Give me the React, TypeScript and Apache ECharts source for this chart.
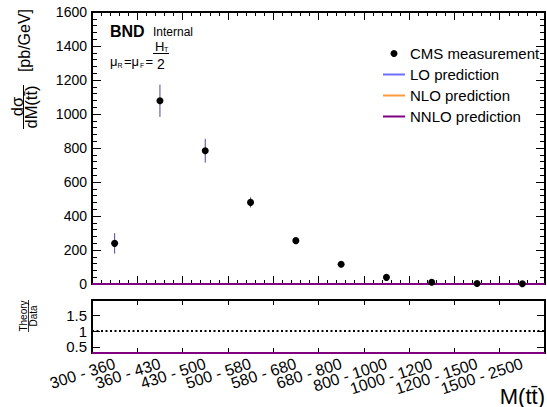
import React, { useEffect, useRef } from "react";
import * as echarts from "echarts";

const binLabels = [
  "300 - 360",
  "360 - 430",
  "430 - 500",
  "500 - 580",
  "580 - 680",
  "680 - 800",
  "800 - 1000",
  "1000 - 1200",
  "1200 - 1500",
  "1500 - 2500",
];
const cmsValues = [239, 1078, 784, 480, 255, 116, 39, 10, 3, 1];
const cmsErrors = [60, 95, 70, 30, 15, 6, 4, 2, 1, 0.5];
const loPrediction = [0, 0, 0, 0, 0, 0, 0, 0, 0, 0];
const nloPrediction = [0, 0, 0, 0, 0, 0, 0, 0, 0, 0];
const nnloPrediction = [0, 0, 0, 0, 0, 0, 0, 0, 0, 0];
const mainYTicks = { min: 0, max: 1600, interval: 200 };
const ratioYLabels = [0.5, 1, 1.5];
const RATIO_MIN = 0.3;
const RATIO_MAX = 2.0;

const FONT = "'Liberation Sans', Arial, Helvetica, sans-serif";
const LO_COLOR = "#6f6fff";
const NLO_COLOR = "#ff9a3c";
const NNLO_COLOR = "#800080";
const ERR_COLOR = "#4a4a96";

function stepData(vals: number[]) {
  const out: number[][] = [];
  vals.forEach((v, i) => {
    out.push([i, v]);
    out.push([i + 1, v]);
  });
  return out;
}
function ratioStep(vals: number[]) {
  const out: number[][] = [];
  vals.forEach((v, i) => {
    const r = Math.min(RATIO_MAX, Math.max(RATIO_MIN, v / cmsValues[i]));
    out.push([i, r]);
    out.push([i + 1, r]);
  });
  return out;
}

export default function App() {
  const ref = useRef<HTMLDivElement>(null);
  useEffect(() => {
    document.body.style.margin = "0";
    const chart = echarts.init(ref.current!, null, { renderer: "svg", width: 547, height: 407 });
    const nBins = binLabels.length;
    const black = { color: "#000", width: 1 };
    const frame = () => ({ show: true, onZero: false, lineStyle: { color: "#000", width: 2 } });
    const AXIS_Z = 50;

    const xVal = (position: "top" | "bottom") => ({
      type: "value",
      gridIndex: 0,
      position,
      z: AXIS_Z,
      min: 0,
      max: nBins,
      interval: 1,
      axisLine: frame(),
      axisTick: { show: true, inside: true, length: 8, lineStyle: black },
      minorTick: { show: true, splitNumber: 5, length: 4, lineStyle: black },
      axisLabel: { show: false },
      splitLine: { show: false },
      minorSplitLine: { show: false },
    });
    const yVal = (position: "left" | "right", labels: boolean) => ({
      type: "value",
      gridIndex: 0,
      position,
      z: AXIS_Z,
      min: mainYTicks.min,
      max: mainYTicks.max,
      interval: mainYTicks.interval,
      axisLine: frame(),
      axisTick: { show: true, inside: true, length: 9, lineStyle: black },
      minorTick: { show: true, splitNumber: 5, length: 5, lineStyle: black },
      axisLabel: labels
        ? {
            show: true,
            fontSize: 14,
            fontFamily: FONT,
            color: "#000",
            margin: 5,
            formatter: (v: number) => String(v),
          }
        : { show: false },
      splitLine: { show: false },
      minorSplitLine: { show: false },
    });
    const ratioCat = (position: "top" | "bottom", labels: boolean) => ({
      type: "category",
      gridIndex: 1,
      position,
      z: AXIS_Z,
      data: binLabels,
      boundaryGap: true,
      axisLine: frame(),
      axisTick: { show: true, inside: true, length: 5, lineStyle: black, interval: 0 },
      axisLabel: labels
        ? {
            show: true,
            interval: 0,
            rotate: 18,
            fontSize: 16,
            fontFamily: FONT,
            color: "#000",
            margin: 10,
          }
        : { show: false },
      splitLine: { show: false },
    });
    const ratioY = (position: "left" | "right", labels: boolean) => ({
      type: "value",
      gridIndex: 1,
      position,
      z: AXIS_Z,
      min: RATIO_MIN,
      max: RATIO_MAX,
      axisLine: frame(),
      axisTick: {
        show: true,
        inside: true,
        length: 8,
        lineStyle: black,
        customValues: ratioYLabels,
      },
      axisLabel: labels
        ? {
            show: true,
            fontSize: 15,
            fontFamily: FONT,
            color: "#000",
            margin: 5,
            customValues: ratioYLabels,
            formatter: (v: number) => String(v),
          }
        : { show: false, customValues: ratioYLabels },
      splitLine: { show: false },
    });

    const predLine = (name: string, vals: number[], color: string, xi: number, yi: number, ratio: boolean) => ({
      type: "line",
      name,
      xAxisIndex: xi,
      yAxisIndex: yi,
      data: ratio ? ratioStep(vals) : stepData(vals),
      showSymbol: false,
      symbol: "none",
      itemStyle: { color },
      lineStyle: { color, width: 2 },
      clip: false,
      z: 60,
    });

    const linePath = "path://M0,0H22V2H0Z";

    chart.setOption({
      animation: false,
      grid: [
        { left: 92, top: 12, width: 453, height: 272, z: AXIS_Z, show: true, borderColor: "#000", borderWidth: 2, backgroundColor: "transparent" },
        { left: 92, top: 300, width: 453, height: 53, z: AXIS_Z, show: true, borderColor: "#000", borderWidth: 2, backgroundColor: "transparent" },
      ],
      xAxis: [
        xVal("bottom"), // 0
        xVal("top"), // 1
        ratioCat("bottom", true), // 2
        ratioCat("top", false), // 3
        { type: "value", gridIndex: 1, show: false, min: 0, max: nBins }, // 4
      ],
      yAxis: [
        yVal("left", true), // 0
        yVal("right", false), // 1
        ratioY("left", true), // 2
        ratioY("right", false), // 3
      ],
      legend: {
        left: 378,
        top: 40,
        orient: "vertical",
        itemWidth: 22,
        itemHeight: 7,
        itemGap: 4,
        z: 70,
        selectedMode: false,
        textStyle: { fontSize: 15, fontFamily: FONT, color: "#000", lineHeight: 17 },
        data: [
          { name: "CMS measurement", icon: "circle" },
          { name: "LO prediction", icon: linePath },
          { name: "NLO prediction", icon: linePath },
          { name: "NNLO prediction", icon: linePath },
        ],
      },
      series: [
        {
          type: "custom",
          name: "errors",
          xAxisIndex: 0,
          yAxisIndex: 0,
          clip: false,
          data: cmsValues.map((v, i) => [i + 0.5, v - cmsErrors[i], v + cmsErrors[i]]),
          encode: { x: 0, y: [1, 2] },
          renderItem: (params: any, api: any) => {
            const x = api.value(0);
            const p1 = api.coord([x, api.value(1)]);
            const p2 = api.coord([x, api.value(2)]);
            return {
              type: "line",
              shape: { x1: p1[0], y1: p1[1], x2: p2[0], y2: p2[1] },
              style: { stroke: ERR_COLOR, lineWidth: 1 },
            };
          },
          z: 60,
        },
        predLine("LO prediction", loPrediction, LO_COLOR, 0, 0, false),
        predLine("NLO prediction", nloPrediction, NLO_COLOR, 0, 0, false),
        predLine("NNLO prediction", nnloPrediction, NNLO_COLOR, 0, 0, false),
        {
          type: "scatter",
          name: "CMS measurement",
          xAxisIndex: 0,
          yAxisIndex: 0,
          clip: false,
          data: cmsValues.map((v, i) => [i + 0.5, v]),
          symbol: "circle",
          symbolSize: 7,
          itemStyle: { color: "#000", opacity: 1 },
          z: 61,
        },
        predLine("LO ratio", loPrediction, LO_COLOR, 4, 2, true),
        predLine("NLO ratio", nloPrediction, NLO_COLOR, 4, 2, true),
        {
          ...predLine("NNLO ratio", nnloPrediction, NNLO_COLOR, 4, 2, true),
          markLine: {
            silent: true,
            symbol: "none",
            label: { show: false },
            lineStyle: { color: "#000", width: 2, type: [2, 2.5], opacity: 1 },
            data: [{ yAxis: 1 }],
          },
        },
      ],
      graphic: [
        { type: "rect", z: 55, silent: true, shape: { x: 92, y: 12, width: 453, height: 272 }, style: { fill: "none", stroke: "#000", lineWidth: 2 } },
        { type: "rect", z: 55, silent: true, shape: { x: 92, y: 300, width: 453, height: 53 }, style: { fill: "none", stroke: "#000", lineWidth: 2 } },
        { type: "text", z: 70, x: 110, y: 31.5, style: { text: "BND", font: `bold 16px ${FONT}`, fill: "#000", verticalAlign: "middle" } },
        { type: "text", z: 70, x: 153, y: 31.5, style: { text: "Internal", font: `12px ${FONT}`, fill: "#000", verticalAlign: "middle" } },
        { type: "text", z: 70, x: 110, y: 61, style: { text: "μ", font: `13px ${FONT}`, fill: "#000", verticalAlign: "middle" } },
        { type: "text", z: 70, x: 117.5, y: 65.5, style: { text: "R", font: `7px ${FONT}`, fill: "#000", verticalAlign: "middle" } },
        { type: "text", z: 70, x: 124, y: 61, style: { text: "=μ", font: `13px ${FONT}`, fill: "#000", verticalAlign: "middle" } },
        { type: "text", z: 70, x: 140, y: 65.5, style: { text: "F", font: `7px ${FONT}`, fill: "#000", verticalAlign: "middle" } },
        { type: "text", z: 70, x: 145.5, y: 61, style: { text: "=", font: `13px ${FONT}`, fill: "#000", verticalAlign: "middle" } },
        { type: "text", z: 70, x: 155, y: 46, style: { text: "H", font: `13px ${FONT}`, fill: "#000", verticalAlign: "middle" } },
        { type: "text", z: 70, x: 164, y: 49.5, style: { text: "T", font: `7px ${FONT}`, fill: "#000", verticalAlign: "middle" } },
        { type: "rect", z: 70, shape: { x: 153, y: 53, width: 16, height: 1 }, style: { fill: "#000" } },
        { type: "text", z: 70, x: 157, y: 63.5, style: { text: "2", font: `14px ${FONT}`, fill: "#000", verticalAlign: "middle" } },
        // y-axis title
        { type: "text", z: 70, x: 24.5, y: 40.5, rotation: Math.PI / 2, style: { text: "[pb/GeV]", font: `16px ${FONT}`, fill: "#000", align: "center", verticalAlign: "middle" } },
        { type: "text", z: 70, x: 16.5, y: 106.5, rotation: Math.PI / 2, style: { text: "dσ", font: `16.5px ${FONT}`, fill: "#000", align: "center", verticalAlign: "middle" } },
        { type: "rect", z: 70, shape: { x: 23, y: 85, width: 1, height: 44 }, style: { fill: "#000" } },
        { type: "text", z: 70, x: 31, y: 107, rotation: Math.PI / 2, style: { text: "dM(tt̄)", font: `16.5px ${FONT}`, fill: "#000", align: "center", verticalAlign: "middle" } },
        // ratio title
        { type: "text", z: 70, x: 23.5, y: 316, rotation: Math.PI / 2, style: { text: "Theory", font: `10px ${FONT}`, fill: "#000", align: "center", verticalAlign: "middle" } },
        { type: "rect", z: 70, shape: { x: 28, y: 300, width: 0.8, height: 32 }, style: { fill: "#000" } },
        { type: "text", z: 70, x: 33, y: 316, rotation: Math.PI / 2, style: { text: "Data", font: `10px ${FONT}`, fill: "#000", align: "center", verticalAlign: "middle" } },
        // x title
        { type: "text", z: 70, x: 545, y: 407, style: { text: "M(tt̄)", font: `22px ${FONT}`, fill: "#000", align: "right", verticalAlign: "bottom" } },
      ],
    });
    return () => chart.dispose();
  }, []);
  return <div ref={ref} style={{ width: 547, height: 407 }} />;
}
